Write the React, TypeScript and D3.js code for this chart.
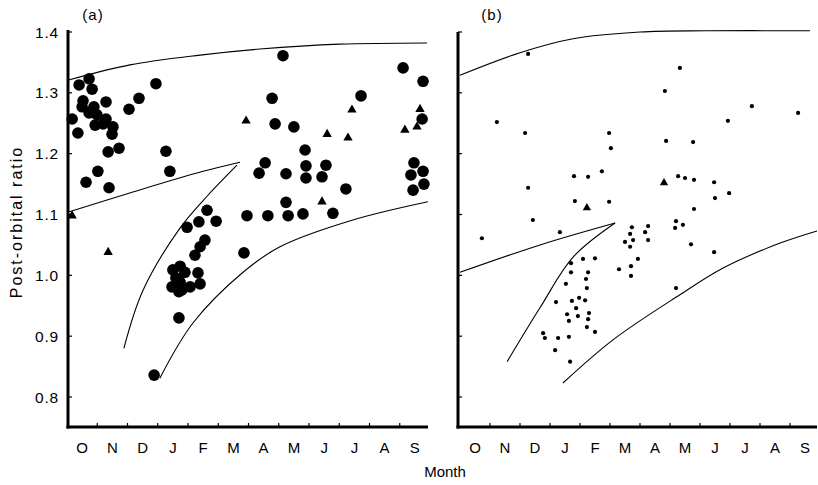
import React from "react";
import * as d3 from "d3";

const months = ["O", "N", "D", "J", "F", "M", "A", "M", "J", "J", "A", "S"];
const yTicks = [0.8, 0.9, 1.0, 1.1, 1.2, 1.3, 1.4];

// Panel (a): [month index from 1 Oct, post-orbital ratio]
const circlesA: [number, number][] = [
  [0.17, 1.257], [0.4, 1.313], [0.73, 1.323], [0.83, 1.306], [0.36, 1.234], [0.53, 1.287],
  [0.5, 1.277], [0.73, 1.267], [0.89, 1.277], [0.99, 1.264], [1.29, 1.285], [1.29, 1.257],
  [0.93, 1.247], [1.19, 1.249], [1.52, 1.244], [1.49, 1.232], [1.72, 1.209], [1.36, 1.203],
  [1.02, 1.171], [0.63, 1.153], [1.39, 1.144], [2.05, 1.273], [2.38, 1.291], [2.94, 1.315],
  [3.27, 1.204], [3.4, 1.171],
  [4.63, 1.107], [4.36, 1.088], [4.93, 1.089], [3.97, 1.079], [4.56, 1.058], [4.4, 1.047],
  [4.23, 1.033], [3.74, 1.015], [3.5, 1.009], [3.9, 1.005], [4.33, 1.004], [3.6, 0.996],
  [3.74, 0.989], [3.47, 0.981], [3.8, 0.976], [4.07, 0.981], [4.4, 0.986], [3.7, 0.973],
  [3.7, 0.93], [2.88, 0.836],
  [5.85, 1.037], [5.95, 1.098], [6.64, 1.098], [7.31, 1.098], [7.8, 1.101], [8.79, 1.102],
  [7.24, 1.12], [6.55, 1.185], [6.35, 1.168], [7.24, 1.167], [7.9, 1.18], [7.9, 1.16],
  [8.56, 1.181], [8.43, 1.162], [9.22, 1.142], [7.87, 1.206], [6.88, 1.249], [7.5, 1.244],
  [6.78, 1.291], [7.14, 1.361], [9.72, 1.295], [11.11, 1.341], [11.77, 1.319], [11.74, 1.257],
  [11.47, 1.185], [11.77, 1.171], [11.37, 1.165], [11.8, 1.15], [11.44, 1.14],
];
const trianglesA: [number, number][] = [
  [0.17, 1.098], [1.36, 1.038], [5.92, 1.254], [8.6, 1.232], [9.29, 1.226], [9.42, 1.272],
  [8.43, 1.121], [11.67, 1.273], [11.17, 1.239], [11.57, 1.244],
];

// Panel (b)
const dotsB: [number, number][] = [
  [2.27, 1.364], [7.33, 1.341], [6.83, 1.303], [9.73, 1.278], [11.27, 1.267], [8.93, 1.254],
  [1.23, 1.252], [2.17, 1.234], [4.97, 1.234], [5.03, 1.209], [6.87, 1.221], [7.77, 1.219],
  [2.27, 1.144], [3.8, 1.163], [4.27, 1.162], [4.73, 1.171], [7.27, 1.163], [7.5, 1.16],
  [7.8, 1.157], [8.47, 1.153], [8.5, 1.127], [8.97, 1.135], [3.83, 1.122], [4.97, 1.121],
  [7.8, 1.109], [2.43, 1.091], [3.33, 1.071], [0.73, 1.061], [7.2, 1.089], [7.43, 1.083],
  [7.17, 1.078], [5.73, 1.079], [6.27, 1.081], [6.17, 1.071], [5.67, 1.068], [5.77, 1.058],
  [6.27, 1.058], [5.5, 1.055], [5.67, 1.047], [7.7, 1.051], [8.47, 1.038], [5.93, 1.027],
  [5.3, 1.01], [5.7, 1.015], [5.7, 0.999], [7.2, 0.979], [3.7, 1.02], [4.1, 1.027],
  [4.5, 1.028], [3.7, 1.005], [4.27, 1.005], [3.53, 0.986], [4.2, 0.994], [4.23, 0.979],
  [3.2, 0.956], [3.73, 0.958], [3.97, 0.963], [4.17, 0.959], [3.87, 0.946], [3.57, 0.936],
  [3.93, 0.933], [4.3, 0.938], [3.63, 0.925], [4.27, 0.928], [4.23, 0.915], [4.5, 0.907],
  [2.77, 0.905], [2.83, 0.897], [3.27, 0.897], [3.63, 0.899], [3.17, 0.877], [3.67, 0.858],
];
const trianglesB: [number, number][] = [[4.23, 1.111], [6.8, 1.152]];

// Envelope curves
const upperA: [number, number][] = [[0.05, 1.321], [2.08, 1.346], [4.4, 1.362], [6.38, 1.372], [9.0, 1.38], [11.9, 1.382]];
const middleA: [number, number][] = [[0.05, 1.104], [2.18, 1.137], [4.5, 1.171], [5.72, 1.186]];
const steepA: [number, number][] = [[1.88, 0.88], [2.51, 0.975], [3.74, 1.078], [4.63, 1.13], [5.62, 1.181]];
const lowerA: [number, number][] = [[3.07, 0.831], [4.17, 0.922], [5.82, 1.005], [7.04, 1.047], [9.45, 1.091], [11.93, 1.121]];

const upperB: [number, number][] = [[0.0, 1.329], [2.0, 1.366], [3.77, 1.389], [6.0, 1.4], [8.23, 1.402], [11.67, 1.402]];
const middleB: [number, number][] = [[0.0, 1.005], [2.67, 1.05], [5.17, 1.086]];
const steepB: [number, number][] = [[1.57, 0.858], [2.67, 0.947], [3.77, 1.03], [5.17, 1.086]];
const lowerB: [number, number][] = [[3.43, 0.823], [5.1, 0.894], [7.33, 0.968], [8.77, 1.012], [10.67, 1.053], [11.9, 1.073]];

const FONT = "'Liberation Sans', Arial, sans-serif";

const y = d3.scaleLinear().domain([0.8, 1.4]).range([397, 32]);
const xA = d3.scaleLinear().domain([0, 12]).range([67, 430]);
const xB = d3.scaleLinear().domain([0, 12]).range([460, 820]);

function Panel({ x, axisX, axisTop, axisRight, label, labelX, curves, circles, dots, tris, triSize, yLabels }: any) {
  const line = d3.line<[number, number]>().x((d) => x(d[0])).y((d) => y(d[1])).curve(d3.curveCatmullRom.alpha(0.5));
  const tri = d3.symbol().type(d3.symbolTriangle).size(triSize)() as string;
  const bottom = 427;
  return (
    <g>
      <text x={labelX} y={20} fontFamily={FONT} fontSize={15} letterSpacing={1} textAnchor="middle">{label}</text>
      {curves.map((c: [number, number][], i: number) => (
        <path key={i} d={line(c) as string} fill="none" stroke="#000" strokeWidth={1.1} />
      ))}
      {circles.map((d: [number, number], i: number) => (
        <circle key={"c" + i} cx={x(d[0])} cy={y(d[1])} r={5.8} fill="#000" />
      ))}
      {dots.map((d: [number, number], i: number) => (
        <circle key={"d" + i} cx={x(d[0])} cy={y(d[1])} r={2.1} fill="#000" />
      ))}
      {tris.map((d: [number, number], i: number) => (
        <path key={"t" + i} d={tri} transform={`translate(${x(d[0])},${y(d[1])})`} fill="#000" />
      ))}
      {/* axes */}
      <line x1={axisX} x2={axisX} y1={axisTop} y2={bottom + 1.5} stroke="#000" strokeWidth={3} />
      <line x1={axisX - 1.5} x2={axisRight} y1={bottom} y2={bottom} stroke="#000" strokeWidth={3} />
      {yTicks.map((t) => (
        <g key={t}>
          <line x1={axisX} x2={axisX + 4} y1={y(t)} y2={y(t)} stroke="#000" strokeWidth={1.2} />
          {yLabels && (
            <text x={axisX - 9} y={y(t)} dy="0.36em" textAnchor="end" fontFamily={FONT} fontSize={15.5} letterSpacing={0.8}>
              {t.toFixed(1)}
            </text>
          )}
        </g>
      ))}
      {d3.range(1, 12).map((m) => (
        <line key={m} x1={x(m)} x2={x(m)} y1={bottom} y2={bottom - 4} stroke="#000" strokeWidth={1.2} />
      ))}
      {months.map((m, i) => (
        <text key={i} x={x(i + 0.5)} y={448} dy="0.36em" textAnchor="middle" fontFamily={FONT} fontSize={15}>
          {m}
        </text>
      ))}
    </g>
  );
}

export default function App() {
  return (
    <svg width={818} height={485} style={{ position: "absolute", left: 0, top: 0, background: "#fff" }}>
      <rect width={818} height={485} fill="#fff" />
      <Panel x={xA} axisX={68} axisTop={30} axisRight={428} label="(a)" labelX={93}
        curves={[upperA, middleA, steepA, lowerA]} circles={circlesA} dots={[]} tris={trianglesA} triSize={38} yLabels={true} />
      <Panel x={xB} axisX={458} axisTop={32} axisRight={817} label="(b)" labelX={492}
        curves={[upperB, middleB, steepB, lowerB]} circles={[]} dots={dotsB} tris={trianglesB} triSize={30} yLabels={false} />
      <text transform="translate(16,222) rotate(-90)" textAnchor="middle" dy="0.36em" fontFamily={FONT} fontSize={16} letterSpacing={2}>
        Post-orbital ratio
      </text>
      <text x={445} y={472} dy="0.36em" textAnchor="middle" fontFamily={FONT} fontSize={15}>Month</text>
    </svg>
  );
}
